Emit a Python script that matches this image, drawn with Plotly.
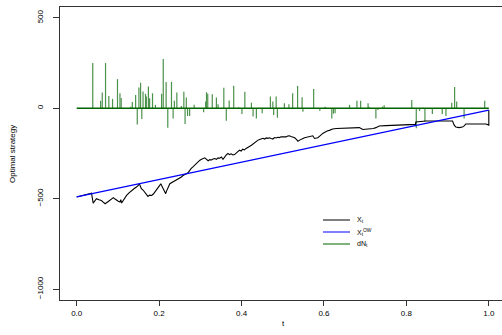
import plotly.graph_objects as go

# ---- data ----
x_t = [0.000, 0.012, 0.024, 0.036, 0.040, 0.044, 0.048, 0.054, 0.060, 0.065, 0.069, 0.075, 0.081, 0.085,
       0.089, 0.093, 0.097, 0.101, 0.105, 0.107, 0.109, 0.113, 0.117, 0.121, 0.127, 0.133, 0.139, 0.145,
       0.149, 0.152, 0.154, 0.157, 0.161, 0.165, 0.169, 0.173, 0.177, 0.182, 0.186, 0.190, 0.194, 0.198,
       0.201, 0.204, 0.207, 0.210, 0.213, 0.216, 0.218, 0.220, 0.223, 0.226, 0.230, 0.234, 0.238, 0.242,
       0.246, 0.250, 0.254, 0.258, 0.262, 0.266, 0.270, 0.274, 0.278, 0.282, 0.286, 0.290, 0.295, 0.299,
       0.303, 0.307, 0.311, 0.315, 0.319, 0.323, 0.327, 0.331, 0.335, 0.339, 0.343, 0.347, 0.351, 0.355,
       0.359, 0.363, 0.367, 0.371, 0.375, 0.379, 0.383, 0.387, 0.391, 0.395, 0.399, 0.403, 0.407, 0.411,
       0.416, 0.420, 0.424, 0.428, 0.432, 0.436, 0.440, 0.444, 0.448, 0.452, 0.456, 0.460, 0.464, 0.468,
       0.472, 0.476, 0.480, 0.484, 0.488, 0.492, 0.496, 0.500, 0.504, 0.508, 0.512, 0.516, 0.520, 0.525,
       0.529, 0.533, 0.537, 0.541, 0.545, 0.549, 0.553, 0.557, 0.561, 0.565, 0.569, 0.573, 0.577, 0.581,
       0.585, 0.589, 0.593, 0.597, 0.601, 0.605, 0.609, 0.613, 0.617, 0.621, 0.630, 0.640, 0.650, 0.660,
       0.670, 0.680, 0.686, 0.690, 0.694, 0.700, 0.710, 0.720, 0.726, 0.730, 0.734, 0.750, 0.775, 0.800,
       0.813, 0.822, 0.823, 0.835, 0.847, 0.870, 0.890, 0.912, 0.916, 0.920, 0.928, 0.936, 0.941, 0.944,
       0.960, 0.980, 0.993, 1.000, 1.000]
x_val = [-491, -485, -478, -469, -524, -512, -500, -506, -510, -520, -528, -518, -509, -500,
         -494, -502, -510, -514, -518, -505, -524, -510, -495, -482, -468, -454, -445, -435,
         -428, -417, -432, -445, -452, -463, -475, -487, -480, -482, -474, -463, -448, -435,
         -428, -417, -430, -445, -460, -472, -458, -450, -432, -417, -412, -407, -400, -394,
         -392, -384, -380, -372, -365, -362, -357, -343, -332, -324, -314, -306, -296, -287,
         -282, -278, -274, -282, -290, -284, -286, -280, -278, -282, -274, -276, -269, -282,
         -266, -258, -250, -256, -252, -258, -256, -245, -240, -232, -236, -226, -230, -222,
         -217, -210, -204, -196, -190, -182, -176, -172, -170, -166, -170, -164, -166, -163,
         -167, -170, -162, -164, -160, -162, -158, -158, -155, -158, -153, -152, -156, -160,
         -163, -172, -182, -176, -170, -167, -163, -160, -158, -156, -153, -152, -167, -165,
         -163, -155, -146, -139, -134, -128, -124, -122, -118, -115, -112, -111, -110, -109,
         -108, -107, -107, -112, -117, -116, -115, -112, -107, -102, -98, -96, -94, -91,
         -89, -89, -76, -73, -70, -70, -70, -70, -93, -104, -107, -104, -96, -87,
         -87, -87, -87, -93, -10]

ow_t = [0.0, 1.0]
ow_val = [-490, -10]

dn_t = [0.039, 0.058, 0.062, 0.070, 0.078, 0.087, 0.099, 0.105, 0.108, 0.131, 0.135, 0.143, 0.147,
        0.151, 0.155, 0.158, 0.161, 0.167, 0.169, 0.174, 0.177, 0.184, 0.191, 0.206, 0.210, 0.217,
        0.221, 0.230, 0.234, 0.237, 0.243, 0.254, 0.260, 0.263, 0.266, 0.269, 0.274, 0.285, 0.308,
        0.313, 0.315, 0.318, 0.329, 0.339, 0.343, 0.357, 0.363, 0.370, 0.381, 0.393, 0.401, 0.408,
        0.424, 0.428, 0.436, 0.450, 0.470, 0.476, 0.478, 0.484, 0.487, 0.504, 0.515, 0.524, 0.536,
        0.547, 0.549, 0.575, 0.590, 0.603, 0.619, 0.623, 0.627, 0.662, 0.680, 0.689, 0.707, 0.709,
        0.726, 0.731, 0.742, 0.746, 0.813, 0.824, 0.832, 0.845, 0.863, 0.887, 0.896, 0.910, 0.917,
        0.922, 0.940, 0.990]
dn_val = [250, 41, 87, 250, 68, 52, 161, 83, 57, 9, 35, 74, -89,
          115, 141, -59, 93, 80, 65, 120, 56, 83, 19, 80, 272, 146,
          -107, 146, -56, 41, 87, 13, 91, -87, 59, -43, -43, 19, -22,
          37, 89, 80, 78, 59, 22, 113, -69, 43, 124, 6, -31, 91,
          31, -46, -56, -28, 65, 37, -37, 65, -52, 28, 22, 83, 124,
          61, -19, 107, -13, 9, -56, -30, -28, 19, 41, 41, 28, 9,
          -56, -9, 9, 17, 46, -111, -15, -74, -31, -31, -43, 31, 117,
          37, -56, 41]

x_ticks = [0.0, 0.2, 0.4, 0.6, 0.8, 1.0]
x_tick_labels = ["0.0", "0.2", "0.4", "0.6", "0.8", "1.0"]
y_ticks = [-1000, -500, 0, 500]
y_tick_labels = ["\u22121000", "\u2212500", "0", "500"]

legend_labels = ["X<sub>t</sub>", "X<sub>t</sub><sup>OW</sup>", "dN<sub>t</sub>"]
legend_colors = ["black", "blue", "#006400"]

# ---- build figure ----
fig = go.Figure()

sx, sy = [], []
for t, v in zip(dn_t, dn_val):
    sx += [t, t, None]
    sy += [0, v, None]
fig.add_trace(go.Scatter(x=sx, y=sy, mode="lines", line=dict(color="#006400", width=1.2),
                         opacity=0.7, showlegend=False, hoverinfo="skip"))
fig.add_trace(go.Scatter(x=[0, 1], y=[0, 0], mode="lines", line=dict(color="#006400", width=1.4),
                         showlegend=False))
fig.add_trace(go.Scatter(x=x_t, y=x_val, mode="lines", line=dict(color="black", width=1.1),
                         showlegend=False))
fig.add_trace(go.Scatter(x=ow_t, y=ow_val, mode="lines", line=dict(color="blue", width=1.1),
                         showlegend=False))

W, H = 502, 335
ml, mr, mt, mb = 60, 0, 7, 35
pw, ph = W - ml - mr, H - mt - mb

def px_x(p):
    return (p - ml) / pw

def px_y(p):
    return 1 - (p - mt) / ph

shapes = []
annotations = []
for i, (lab, col) in enumerate(zip(legend_labels, legend_colors)):
    yy = 220 + 12 * i
    shapes.append(dict(type="line", xref="paper", yref="paper", x0=px_x(323), x1=px_x(350),
                       y0=px_y(yy), y1=px_y(yy), line=dict(color=col, width=1)))
    annotations.append(dict(text=lab, xref="paper", yref="paper", x=px_x(355), y=px_y(yy),
                            xanchor="left", yanchor="middle", showarrow=False,
                            font=dict(size=7, color="black")))

annotations.append(dict(text="t", xref="paper", yref="paper", x=px_x(283), y=px_y(323),
                        xanchor="center", yanchor="middle", showarrow=False, font=dict(size=8)))
annotations.append(dict(text="Optimal strategy", xref="paper", yref="paper", x=px_x(12),
                        y=px_y(154), xanchor="center", yanchor="middle", showarrow=False,
                        textangle=-90, font=dict(size=8)))

fig.update_layout(
    width=W, height=H,
    margin=dict(l=ml, r=mr, t=mt, b=mb),
    paper_bgcolor="white", plot_bgcolor="white",
    font=dict(family="Liberation Sans, Arial, sans-serif", size=8, color="black"),
    showlegend=False,
    shapes=shapes, annotations=annotations,
    xaxis=dict(range=[-0.0405, 1.032], tickvals=x_ticks, ticktext=x_tick_labels, automargin=False,
               showgrid=False, zeroline=False, showline=True, linecolor="#333", linewidth=1,
               mirror=True, ticks="outside", ticklen=5, tickcolor="#333"),
    yaxis=dict(range=[-1060, 560], tickvals=y_ticks, ticktext=y_tick_labels, tickangle=-90,
               automargin=False,
               showgrid=False, zeroline=False, showline=True, linecolor="#333", linewidth=1,
               ticks="outside", ticklen=6, tickcolor="#333", ticklabelstandoff=7),
)

fig.write_html("out.html", config={"displayModeBar": False},
               post_script="document.body.style.margin='0';document.body.style.overflow='hidden';")
